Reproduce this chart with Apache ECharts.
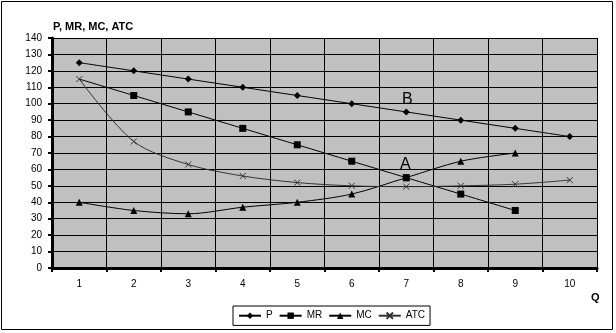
<!DOCTYPE html>
<html><head><meta charset="utf-8">
<script src="https://cdn.jsdelivr.net/npm/echarts@6/dist/echarts.min.js"></script>
<style>html,body{margin:0;padding:0;background:#fff}#c{width:616px;height:333px}</style>
</head><body><div id="c"></div>
<script>
const categories = ['1','2','3','4','5','6','7','8','9','10'];
const P   = [125,120,115,110,105,100,95,90,85,80];
const MR  = [115,105,95,85,75,65,55,45,35,null];
const MC  = [40,35,33,37,40,45,55,65,70,null];
const ATC = [115,77,63,56,52,50,49.5,50,51,53.5];
const yTicks = {min:0, max:140, interval:10};

const FONT = 'Liberation Sans, Arial, sans-serif';
const chart = echarts.init(document.getElementById('c'));
const xSym = 'path://M0,0L10,10M10,0L0,10';
function s(name, data, symbol, size, lineColor, extra){
  return Object.assign({
    name, type:'line', data, smooth:0.3, symbol, symbolSize:size,
    showAllSymbol:true,
    lineStyle:{color:lineColor, width:1},
    itemStyle:{color:'#000'},
    emphasis:{disabled:true}, animation:false, z:3
  }, extra||{});
}
// first MR point drawn without its marker (as in the reference)
const MRdata = MR.map((v,i)=> i===0 ? {value:v, symbol:'none'} : v);
chart.setOption({
  animation:false,
  textStyle:{fontFamily:FONT},
  grid:{left:52, right:19, top:38, bottom:65, show:true, backgroundColor:'#c0c0c0', borderWidth:0},
  xAxis:{type:'category', data:categories, boundaryGap:true,
    axisLine:{lineStyle:{color:'#000', width:3}},
    axisTick:{show:true, length:4, lineStyle:{color:'#000', width:2}},
    axisLabel:{color:'#000', fontSize:10, fontFamily:FONT, margin:11},
    splitLine:{show:true, interval:0, lineStyle:{color:'#000', width:1}}
  },
  yAxis:{type:'value', min:yTicks.min, max:yTicks.max, interval:yTicks.interval,
    axisLine:{show:true, lineStyle:{color:'#000', width:3}},
    axisTick:{show:true, length:4, lineStyle:{color:'#000', width:2}},
    axisLabel:{color:'#000', fontSize:10, fontFamily:FONT, margin:10},
    splitLine:{show:true, lineStyle:{color:'#000', width:1}}
  },
  legend:{top:306, left:233, itemWidth:22, itemHeight:8, itemGap:6,
    borderColor:'#000', borderWidth:1, padding:[4,5,4,5], borderRadius:0,
    textStyle:{fontSize:10, color:'#000', fontFamily:FONT},
    data:['P','MR','MC','ATC']},
  graphic:[
    {type:'rect', shape:{x:1.5,y:1.5,width:611,height:328}, style:{fill:'none', stroke:'#000', lineWidth:1}, silent:true, z:-1},
    {type:'text', left:53, top:21, style:{text:'P, MR, MC, ATC', fontSize:11, fontWeight:'bold', fontFamily:FONT, fill:'#000'}},
    {type:'text', left:591, top:292, style:{text:'Q', fontSize:11, fontWeight:'bold', fontFamily:FONT, fill:'#000'}},
    {type:'text', left:402, top:92, style:{text:'B', fontSize:16, fontFamily:FONT, fill:'#000'}},
    {type:'text', left:400, top:157, style:{text:'A', fontSize:16, fontFamily:FONT, fill:'#000'}}
  ],
  series:[
    s('P', P, 'diamond', 7, '#000'),
    s('MR', MRdata, 'rect', 7, '#000'),
    s('MC', MC, 'triangle', 7, '#000'),
    s('ATC', ATC, xSym, 6, '#333', {itemStyle:{color:'none', borderColor:'#333', borderWidth:1}})
  ]
});
</script></body></html>
